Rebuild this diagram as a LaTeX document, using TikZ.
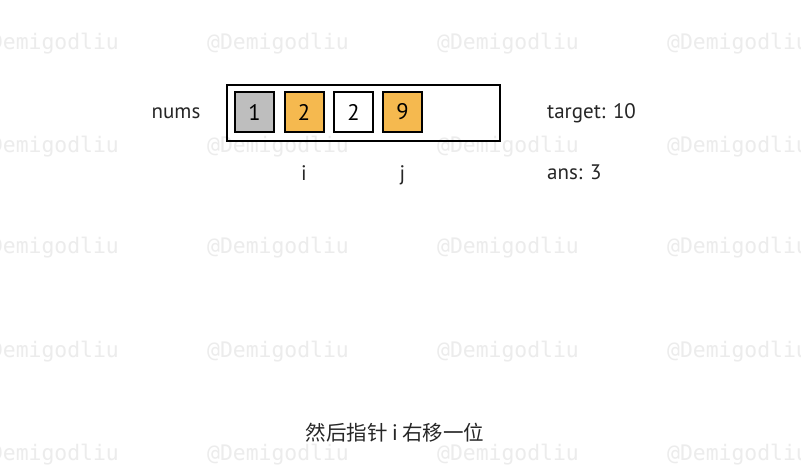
\documentclass[tikz,border=0pt]{standalone}
\usepackage{fontspec}
\setmainfont{PT Sans}
\newfontfamily\wmfont{DejaVu Sans Mono}
\newfontfamily\cjk{Noto Sans CJK SC}
\definecolor{orng}{HTML}{F5B94F}
\definecolor{gry}{HTML}{BEBEBE}
\definecolor{wm}{HTML}{ECECEC}
\begin{document}
\begin{tikzpicture}[x=1pt,y=-1pt,
  cell/.style={draw=black,line width=2pt,minimum width=39pt,minimum height=40pt,inner sep=0pt,font=\fontsize{22.5}{22.5}\selectfont},
  lbl/.style={font=\fontsize{21}{21}\selectfont,text=black!85,inner sep=0pt},
  wmark/.style={font=\wmfont\fontsize{21.4}{21.4}\selectfont,text=wm,inner sep=0pt}]
\useasboundingbox (0,0) rectangle (801,469);
\fill[white] (0,0) rectangle (801,469);
% watermarks
\foreach \yy in {44,147,248,352,455}{
  \foreach \xx in {48,278,508,738}{
    \node[wmark] at (\xx,\yy) {@Demigodliu};
  }
}
\node[draw=black,line width=2pt,minimum width=273pt,minimum height=56pt,inner sep=0pt] (arr) at (363,112.5) {};
\node[cell,fill=gry] (c1) at (254.5,112) {1};
\node[cell,fill=orng] (c2) at (304,112) {2};
\node[cell,fill=white] (c3) at (353.5,112) {2};
\node[cell,fill=orng] (c4) at (402.5,112) {9};
\node[lbl] (nums) at (176,113) {nums};
\node[lbl] (i) at (304,173) {i};
\node[lbl] (j) at (402.5,175) {j};
\node[lbl,anchor=west] (tgt) at (547,113) {target: 10};
\node[lbl,anchor=west] (ans) at (547,172) {ans: 3};
\node[font=\cjk\fontsize{20.5}{20.5}\selectfont,text=black!85,inner sep=0pt] (cap) at (395,433) {然后指针 i 右移一位};
\end{tikzpicture}
\end{document}
